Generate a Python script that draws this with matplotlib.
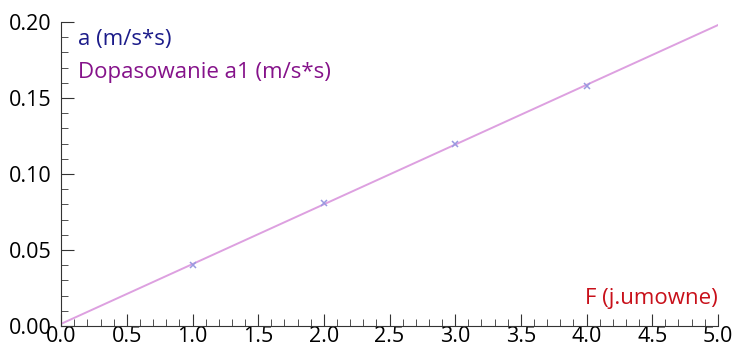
import numpy as np
import matplotlib.pyplot as plt
from matplotlib.ticker import MultipleLocator

# measured acceleration vs force
F = [1.0, 2.0, 3.0, 4.0]
a = [0.040, 0.081, 0.120, 0.158]

# fitted line a1 = k*F + b
fit_x = [0.0, 5.0]
fit_k = 0.0393
fit_b = 0.0015

plt.rcParams['font.family'] = ['Open Sans', 'DejaVu Sans']

fig = plt.figure(figsize=(7.37, 3.56), dpi=100)
ax = fig.add_axes([0.083, 0.084, 0.891, 0.854])

fx = np.array(fit_x)
ax.plot(fx, fit_k * fx + fit_b, color='#dda0e0', lw=1.4, zorder=2)
ax.plot(F, a, linestyle='none', marker='x', color='#9a9ae0', ms=5, mew=1.1, zorder=3)

ax.set_xlim(0, 5)
ax.set_ylim(0, 0.2)
ax.xaxis.set_major_locator(MultipleLocator(0.5))
ax.xaxis.set_minor_locator(MultipleLocator(0.1))
ax.yaxis.set_major_locator(MultipleLocator(0.05))
ax.yaxis.set_minor_locator(MultipleLocator(0.01))
ax.xaxis.set_major_formatter(plt.FormatStrFormatter('%.1f'))
ax.yaxis.set_major_formatter(plt.FormatStrFormatter('%.2f'))

for s in ['top', 'right']:
    ax.spines[s].set_visible(False)
for s in ['left', 'bottom']:
    ax.spines[s].set_color('#333333')
ax.tick_params(which='both', direction='in', color='#333333', labelsize=15.5)
ax.tick_params(which='major', length=9)
ax.tick_params(which='minor', length=5)
ax.tick_params(axis='x', pad=0)
ax.tick_params(axis='y', pad=7)

ax.text(0.026, 0.942, 'a (m/s*s)', transform=ax.transAxes, color='#1c1c8a',
        fontsize=16, va='center', ha='left')
ax.text(0.026, 0.833, 'Dopasowanie a1 (m/s*s)', transform=ax.transAxes, color='#85128a',
        fontsize=16, va='center', ha='left')
ax.text(1.0, 0.09, 'F (j.umowne)', transform=ax.transAxes, color='#c8101a',
        fontsize=16, va='center', ha='right')

fig.savefig('out.png', dpi=100)
